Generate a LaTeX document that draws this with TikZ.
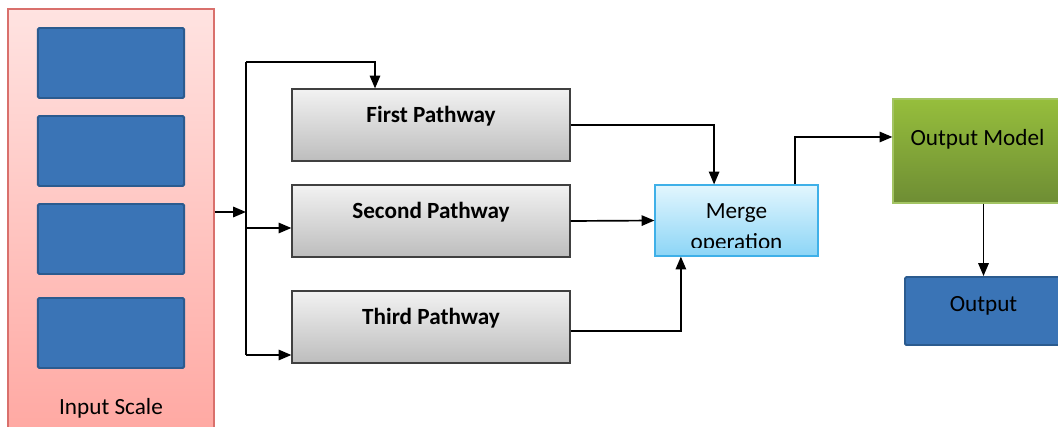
\documentclass[tikz,border=0pt]{standalone}
\usepackage{fontspec}
\setmainfont{Carlito}
\usetikzlibrary{arrows.meta}

\definecolor{pinktop}{HTML}{FFE3E1}
\definecolor{pinkbot}{HTML}{FFA9A3}
\definecolor{pinkline}{HTML}{D9706C}
\definecolor{bluefill}{HTML}{3A74B6}
\definecolor{blueline}{HTML}{2B5B8F}
\definecolor{graytop}{HTML}{F2F2F2}
\definecolor{graybot}{HTML}{BDBDBD}
\definecolor{skytop}{HTML}{E2F6FE}
\definecolor{skybot}{HTML}{8CD5F6}
\definecolor{skyline}{HTML}{3FB0E8}
\definecolor{greentop}{HTML}{96BE3C}
\definecolor{greenbot}{HTML}{6E8D34}
\definecolor{greenline}{HTML}{A3C463}

\begin{document}
\begin{tikzpicture}[x=0.025cm, y=-0.025cm,
  font=\fontsize{16.5}{21}\selectfont,
  arr/.style={line width=1.2pt, -{Triangle[length=0.32cm,width=0.26cm]}},
  bluebox/.style={draw=blueline, fill=bluefill, line width=1.4pt, rounded corners=1pt,
    minimum width=3.65cm, minimum height=1.75cm},
  pathbox/.style={draw=black!75, top color=graytop, bottom color=graybot, line width=0.8pt,
    minimum width=6.95cm, minimum height=1.8cm},
  pathtxt/.style={font=\fontsize{16.5}{21}\selectfont\bfseries}]
\useasboundingbox (0,0) rectangle (1058,427);

% input scale column
\node[draw=pinkline, top color=pinktop, bottom color=pinkbot, line width=0.8pt,
  minimum width=5.15cm, minimum height=10.475cm] (inscale) at (111,218.5) {};
\foreach \y [count=\i] in {63,151,239,333}
  \node[bluebox] (scale\i) at (111,\y) {};
\node (inlabel) at (111,408.5) {Input Scale};

% pathways
\node[pathbox] (first) at (431,125) {};
\node[pathbox] (second) at (431,221) {};
\node[pathbox] (third) at (431,327) {};
\node[pathtxt] (firsttxt) at ([yshift=0.23cm]first.center) {First Pathway};
\node[pathtxt] (secondtxt) at ([yshift=0.23cm]second.center) {Second Pathway};
\node[pathtxt] (thirdtxt) at ([yshift=0.23cm]third.center) {Third Pathway};

% merge
\node[draw=skyline, top color=skytop, bottom color=skybot, line width=0.8pt,
  minimum width=4.075cm, minimum height=1.775cm] (merge) at (736.5,220.5) {};
\begin{scope}
\clip (655,185) rectangle (818,247);
\node[align=center] (mergetxt) at ([yshift=-0.2cm]merge.center) {Merge\\[1pt]operation};
\end{scope}

% output side
\node[draw=greenline, top color=greentop, bottom color=greenbot, line width=0.8pt,
  minimum width=4.225cm, minimum height=2.6cm] (outmodel) at (977.5,151) {};
\node (outmodeltxt) at ([yshift=0.28cm]outmodel.center) {Output Model};
\node[bluebox, minimum width=3.925cm, minimum height=1.7cm] (output) at (983.5,311) {};
\node (outputtxt) at ([yshift=0.13cm]output.center) {Output};

% connectors
\coordinate (split) at (246,212);
\coordinate (jtop) at (246,62);
\coordinate (jmid) at (246,228);
\coordinate (jbot) at (246,355);
\coordinate (ftop) at (375,62);
\draw[arr] (inscale.east |- split) -- (split);
\draw[line width=1.2pt] (jtop) -- (jbot);
\draw[arr] (jtop) -| (first.north -| ftop);
\draw[arr] (jmid) -- (second.west |- jmid);
\draw[arr] (jbot) -- (third.west |- jbot);

\draw[arr] (first.east) -| ([xshift=-0.56cm]merge.north);
\draw[arr] (second.east) -- (merge.west);
\draw[arr] ([yshift=-0.1cm]third.east) -| ([xshift=-1.39cm]merge.south);
\draw[arr] ([xshift=1.46cm]merge.north) |- ([yshift=0.35cm]outmodel.west);
\draw[arr] (outmodel.south -| output.north) -- (output.north);
\end{tikzpicture}
\end{document}
